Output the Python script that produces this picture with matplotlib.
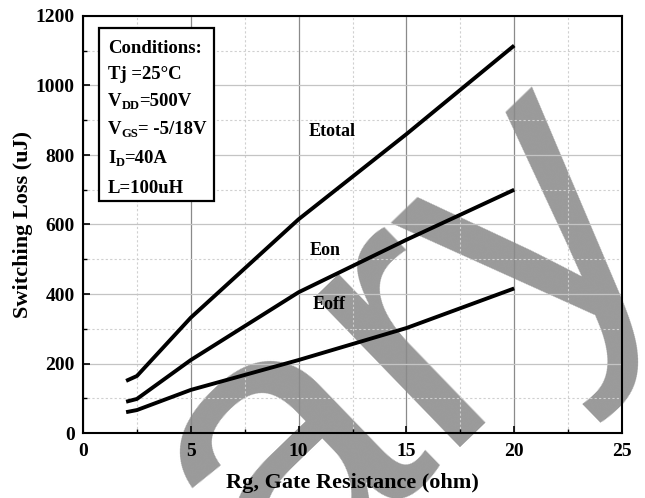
import matplotlib
matplotlib.use("Agg")
import matplotlib.pyplot as plt
from matplotlib.ticker import MultipleLocator
from matplotlib.patches import Rectangle
from matplotlib.transforms import IdentityTransform

plt.rcParams['font.family'] = ['Liberation Serif', 'DejaVu Serif']
plt.rcParams['font.weight'] = 'bold'

# Gate resistance (ohm) and switching energies (uJ)
rg = [2, 2.5, 5, 10, 15, 20]
e_total = [150, 164, 332, 615, 860, 1115]
e_on = [90, 98, 210, 405, 556, 700]
e_off = [60, 66, 124, 210, 302, 416]

curve_labels = ["Etotal", "Eon", "Eoff"]
label_pos = [(10.45, 869), (10.5, 524), (10.65, 371)]

# each line of the conditions box: (text, is_subscript) pieces
conditions = [
    [("Conditions:", False)],
    [("Tj =25\u00b0C", False)],
    [("V", False), ("DD", True), ("=500V", False)],
    [("V", False), ("GS", True), ("= -5/18V", False)],
    [("I", False), ("D", True), ("=40A", False)],
    [("L=100uH", False)],
]

x_ticks = [0, 5, 10, 15, 20, 25]
y_ticks = [0, 200, 400, 600, 800, 1000, 1200]

W, H = 645, 498
fig = plt.figure(figsize=(W / 100, H / 100), dpi=100)
ax = fig.add_axes([83 / W, 1 - 433 / H, (622 - 83) / W, (433 - 16) / H])
ax.set_facecolor('none')
ax.set_zorder(1)

# large background stamp
fig.text(670 / W, 1 - 214 / H, "Preliminary", rotation=44,
         rotation_mode='anchor', ha='right', va='baseline',
         fontsize=285, color='#9a9a9a', family='Liberation Sans',
         fontweight='normal', zorder=0)

for ys in (e_total, e_on, e_off):
    ax.plot(rg, ys, color='black', lw=2.8, solid_capstyle='butt', zorder=4)

for name, (lx, ly) in zip(curve_labels, label_pos):
    ax.text(lx, ly, name, fontsize=13, fontweight='bold', ha='left', va='center', zorder=5)

ax.set_xlim(0, 25)
ax.set_ylim(0, 1200)
ax.set_xticks(x_ticks)
ax.set_yticks(y_ticks)
ax.xaxis.set_minor_locator(MultipleLocator(2.5))
ax.yaxis.set_minor_locator(MultipleLocator(100))
ax.tick_params(which='major', direction='in', length=5, width=1.2, labelsize=14)
ax.tick_params(axis='x', which='major', pad=7)
ax.tick_params(axis='y', which='major', pad=6)
ax.tick_params(which='minor', direction='in', length=3, width=1.0)
for lab in ax.get_xticklabels() + ax.get_yticklabels():
    lab.set_fontweight('bold')

ax.grid(which='major', axis='x', color='#8a8a8a', lw=0.9, ls='-')
ax.grid(which='major', axis='y', color='#c4c4c4', lw=0.9, ls='-')
ax.grid(which='minor', color='#d0d0d0', lw=0.8, ls=(0, (2, 2)))
ax.set_axisbelow(True)

for sp in ax.spines.values():
    sp.set_linewidth(1.5)
    sp.set_zorder(6)

ax.set_xlabel("Rg, Gate Resistance (ohm)", fontsize=16, fontweight='bold')
ax.xaxis.set_label_coords(0.5, -(473 - 433) / (433 - 16))
ax.set_ylabel("Switching Loss (uJ)", fontsize=16, fontweight='bold')
ax.yaxis.set_label_coords(-(83 - 33) / (622 - 83), 0.5)

# conditions box
box = Rectangle((99 / W, 1 - 201 / H), (214 - 99) / W, (201 - 28) / H,
                transform=fig.transFigure, fill=True, facecolor='white',
                edgecolor='black', lw=1.6, zorder=7)
fig.add_artist(box)

renderer = fig.canvas.get_renderer()
line_y = [47, 73, 100, 128, 157, 187]
for pieces, py in zip(conditions, line_y):
    xpos = 108
    base = H - (py + 6)
    for txt, sub in pieces:
        t = fig.text(xpos, base - (3 if sub else 0), txt,
                     fontsize=9 if sub else 13.5, fontweight='bold',
                     ha='left', va='baseline', transform=IdentityTransform(),
                     zorder=8)
        xpos += t.get_window_extent(renderer).width

fig.savefig("out.png", dpi=100)
